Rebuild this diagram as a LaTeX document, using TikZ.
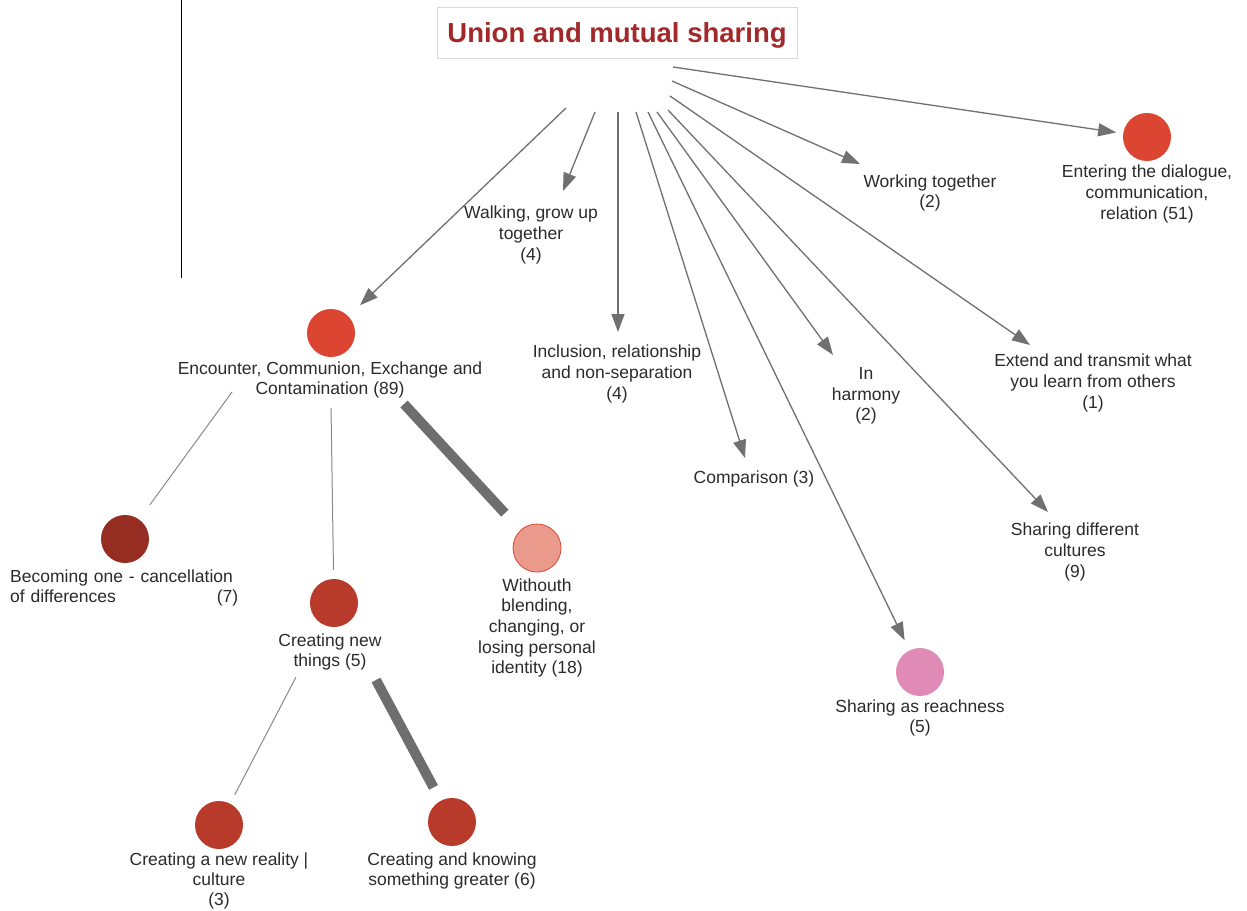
\documentclass[tikz,border=0pt]{standalone}
\usepackage{fontspec}
\setmainfont{Liberation Sans}
\usetikzlibrary{arrows.meta}
\definecolor{titlered}{HTML}{A3282A}
\definecolor{boxgray}{HTML}{DADADA}
\definecolor{textgray}{HTML}{2B2B2B}
\definecolor{arrgray}{HTML}{707070}
\definecolor{linegray}{HTML}{8A8A8A}
\definecolor{thickgray}{HTML}{6E6E6E}
\definecolor{cOrange}{HTML}{DB4532}
\definecolor{cRed}{HTML}{B83A2B}
\definecolor{cDark}{HTML}{962D22}
\definecolor{cLight}{HTML}{EA9A8B}
\definecolor{cPink}{HTML}{E08BB5}
\begin{document}
\begin{tikzpicture}[x=1pt,y=-1pt,
  lbl/.style={font=\fontsize{17.5}{20.7}\selectfont, text=textgray, align=center, inner sep=0, yshift=-2pt},
  dot/.style={circle, minimum size=48pt, inner sep=0},
  arr/.style={draw=arrgray, line width=1.3pt, -{Triangle[length=18pt,width=13pt]}},
  thinlink/.style={draw=linegray, line width=1pt},
  thicklink/.style={draw=thickgray, line width=10pt}]
\useasboundingbox (0,0) rectangle (1247,910);
\fill[white] (0,0) rectangle (1247,910);

% side rule
\draw[black, line width=1pt] (181,0) -- (181,278);

% title
\node[draw=boxgray, line width=0.8pt, minimum width=360pt, minimum height=51pt, inner sep=0,
      text height=20pt, text depth=0pt,
      font=\fontsize{27.5}{30}\selectfont\bfseries, text=titlered] (title) at (617,32.5) {Union and mutual sharing};

% fan origins below the title
\coordinate (s1) at (566,108);
\coordinate (s2) at (595,112);
\coordinate (s3) at (618,112);
\coordinate (s4) at (636,112);
\coordinate (s5) at (648,112);
\coordinate (s6) at (657,112);
\coordinate (s7) at (668,110);
\coordinate (s8) at (670,96);
\coordinate (s9) at (672,81);
\coordinate (s10) at (673,67);

% circle nodes and their labels
\node[dot, fill=cOrange] (enc) at (331,333) {};
\node[lbl] (enclab) at (330,378) {Encounter, Communion, Exchange and\\Contamination (89)};
\node[dot, fill=cOrange] (ent) at (1147,137) {};
\node[lbl] (entlab) at (1147,192) {Entering the dialogue,\\communication,\\relation (51)};
\node[dot, fill=cPink] (reach) at (920,672) {};
\node[lbl] (reachlab) at (920,716) {Sharing as reachness\\(5)};
\node[dot, fill=cDark] (beco) at (125,539) {};
\node[lbl, align=left, text width=228pt, anchor=west] (becolab) at (10,586) {Becoming one - cancellation\\of differences\hskip0pt plus1filll(7)};
\node[dot, fill=cRed] (newt) at (334,603) {};
\node[lbl] (newtlab) at (330,650) {Creating new\\things (5)};
\node[dot, fill=cLight, draw=cOrange, line width=0.8pt] (with) at (537,548) {};
\node[lbl] (withlab) at (537,626) {Withouth\\blending,\\changing, or\\losing personal\\identity (18)};
\node[dot, fill=cRed] (real) at (219,825) {};
\node[lbl, font=\fontsize{17.5}{20.2}\selectfont] (reallab) at (219,879) {Creating a new reality |\\culture\\(3)};
\node[dot, fill=cRed] (know) at (452,822) {};
\node[lbl] (knowlab) at (452,869) {Creating and knowing\\something greater (6)};

% label-only nodes
\node[lbl] (walk) at (531,233) {Walking, grow up\\together\\(4)};
\node[lbl] (incl) at (617,372) {Inclusion, relationship\\and non-separation\\(4)};
\node[lbl] (comp) at (754,477) {Comparison (3)};
\node[lbl] (harm) at (866,394) {In\\harmony\\(2)};
\node[lbl] (cult) at (1075,550) {Sharing different\\cultures\\(9)};
\node[lbl] (ext) at (1093,381) {Extend and transmit what\\you learn from others\\(1)};
\node[lbl] (work) at (930,191) {Working together\\(2)};

% arrows from the title
\draw[arr, shorten >=16pt] (s1) -- (enc);
\draw[arr] (s2) -- ([shift={(32,-44)}]walk.center);
\draw[arr] (s3) -- ([shift={(1,-42)}]incl.center);
\draw[arr] (s4) -- ([shift={(-9,-21)}]comp.center);
\draw[arr, shorten >=11pt] (s5) -- (reach);
\draw[arr] (s6) -- ([shift={(-33,-41)}]harm.center);
\draw[arr] (s7) -- ([shift={(-27,-40)}]cult.center);
\draw[arr] (s8) -- ([shift={(-63,-38)}]ext.center);
\draw[arr] (s9) -- ([shift={(-70,-29)}]work.center);
\draw[arr, shorten >=7pt] (s10) -- (ent);

% sub-branches
\draw[thinlink, shorten >=18pt] ([shift={(-98,12)}]enclab.center) -- (beco);
\draw[thinlink, shorten >=9pt] ([shift={(1,28)}]enclab.center) -- (newt);
\draw[thicklink, shorten >=23pt] ([shift={(74,24)}]enclab.center) -- (with);
\draw[thinlink, shorten >=10pt] ([shift={(-34,25)}]newtlab.center) -- (real);
\draw[thicklink, shorten >=15pt] ([shift={(46,28)}]newtlab.center) -- (know);
\end{tikzpicture}
\end{document}
